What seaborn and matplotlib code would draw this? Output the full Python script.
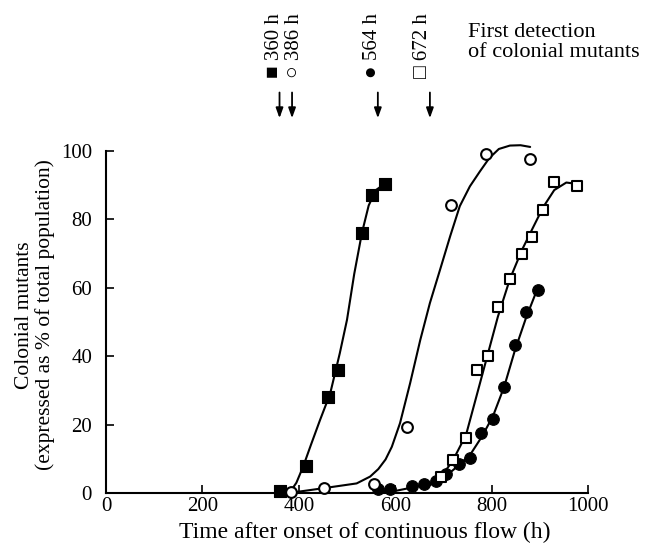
import matplotlib
matplotlib.use("Agg")
import matplotlib.pyplot as plt
import matplotlib.transforms as mtransforms
import seaborn as sns

# ---------------- data ----------------
# filled squares
sq_fill_x = [360, 415, 461, 481, 531, 552, 579]
sq_fill_y = [0.5, 8, 28, 36, 76, 87, 90.4]
# open circles
circ_open_x = [384, 453, 556, 624, 716, 788, 880]
circ_open_y = [0.3, 1.4, 2.5, 19.4, 84, 99, 97.7]
# open squares
sq_open_x = [696, 720, 747, 769, 792, 813, 838, 863, 884, 907, 930, 978]
sq_open_y = [4.8, 9.6, 16, 36, 40.1, 54.2, 62.6, 69.7, 74.7, 82.7, 90.9, 89.8]
# filled circles
circ_fill_x = [565, 590, 635, 659, 684, 706, 733, 756, 779, 803, 826, 848, 871, 896]
circ_fill_y = [1.1, 1.3, 1.9, 2.6, 3.4, 5.5, 8.4, 10.1, 17.4, 21.5, 31.1, 43.3, 52.8, 59.2]

# fitted curves
curve_a_x = [360, 382, 395, 409, 425, 444, 465, 485, 500, 515, 531, 545, 560, 579]
curve_a_y = [0.3, 0.3, 3, 7.7, 14, 21.3, 29, 40.8, 50.6, 64, 76, 84, 88.5, 90.4]
curve_b_x = [385, 451, 520, 548, 565, 580, 593, 610, 631, 652, 672, 693, 714,
             734, 755, 776, 795, 815, 838, 860, 880]
curve_b_y = [0.1, 1.4, 2.8, 4.8, 7.0, 9.8, 13.5, 20.4, 32.1, 44.7, 55.5, 65.2, 75,
             83.8, 89.6, 94, 97.8, 100.5, 101.5, 101.6, 101.1]
curve_c_x = [665, 696, 720, 747, 770, 792, 813, 838, 863, 884, 907, 930, 955, 977]
curve_c_y = [1.5, 4.8, 9.6, 17, 29, 40.5, 51.5, 62.5, 71, 77, 83.5, 88.5, 90.7, 90.3]
curve_d_x = [560, 600, 635, 660, 685, 710, 735, 757, 780, 803, 826, 848, 871, 896]
curve_d_y = [0.3, 0.6, 1.6, 2.5, 3.4, 5.5, 8.5, 11.5, 16.5, 22.5, 31, 41.5, 51, 60]

# first detection annotations
detect_times = [360, 386, 564, 672]
detect_symbols = ["\u25a0", "\u25cb", "\u25cf", "\u25a1"]

x_ticks = [0, 200, 400, 600, 800, 1000]
y_ticks = [0, 20, 40, 60, 80, 100]

# ---------------- styling ----------------
sns.set_theme(style="ticks")
serif = ["Liberation Serif", "DejaVu Serif", "DejaVu Sans"]
plt.rcParams["font.family"] = serif
plt.rcParams["axes.linewidth"] = 1.5

fig = plt.figure(figsize=(6.45, 5.48), dpi=100)
ax = fig.add_axes([106 / 645, 55 / 548, 482 / 645, 342.3 / 548])

# curves
for cx, cy in [(curve_a_x, curve_a_y), (curve_b_x, curve_b_y),
               (curve_c_x, curve_c_y), (curve_d_x, curve_d_y)]:
    sns.lineplot(x=cx, y=cy, ax=ax, color="black", linewidth=1.5,
                 estimator=None, sort=False, clip_on=False, zorder=2)

# markers
sns.scatterplot(x=sq_fill_x, y=sq_fill_y, ax=ax, marker="s", s=80,
                color="black", edgecolor="black", linewidth=0.8, clip_on=False, zorder=3)
sns.scatterplot(x=circ_fill_x, y=circ_fill_y, ax=ax, marker="o", s=70,
                color="black", edgecolor="black", linewidth=0.8, clip_on=False, zorder=3)
sns.scatterplot(x=sq_open_x, y=sq_open_y, ax=ax, marker="s", s=60,
                facecolor="white", edgecolor="black", linewidth=1.5, clip_on=False, zorder=4)
sns.scatterplot(x=circ_open_x, y=circ_open_y, ax=ax, marker="o", s=60,
                facecolor="white", edgecolor="black", linewidth=1.5, clip_on=False, zorder=4)

ax.set_xlim(0, 1000)
ax.set_ylim(0, 100)
ax.set_xticks(x_ticks)
ax.set_yticks(y_ticks)
ax.tick_params(axis="both", direction="in", length=6, width=1.2,
               labelsize=15, colors="black")
ax.tick_params(axis="y", pad=10)
ax.tick_params(axis="x", pad=3)
sns.despine(ax=ax)
for s in ["left", "bottom"]:
    ax.spines[s].set_color("black")

ax.set_xlabel("Time after onset of continuous flow (h)", fontsize=17, color="black")
ax.xaxis.set_label_coords((365 - 106) / 482, -0.083)
ax.set_ylabel("Colonial mutants\n(expressed as % of total population)",
              fontsize=15.5, color="black", linespacing=1.05)
ax.yaxis.set_label_coords(-0.106, 0.52)

# arrows and detection labels above the plot
trans = mtransforms.blended_transform_factory(ax.transData, ax.transAxes)
label_shift = [-11, 6, -11, -15]
for t, sym, dx in zip(detect_times, detect_symbols, label_shift):
    ax.annotate("", xy=(t, 1.095), xytext=(t, 1.17), xycoords=trans, textcoords=trans,
                arrowprops=dict(arrowstyle="-|>,head_length=0.5,head_width=0.18",
                                color="black", lw=1.3, shrinkA=0, shrinkB=0),
                annotation_clip=False)
    ax.text(t + dx, 1.212, f"{sym} {t} h", transform=trans, rotation=90,
            ha="center", va="bottom", fontsize=15, color="black",
            family=["Liberation Serif", "DejaVu Sans"])

fig.text(468 / 645, 1 - 23 / 548, "First detection\nof colonial mutants",
         ha="left", va="top", fontsize=16, color="black", linespacing=1.05)

fig.savefig("out.png", dpi=100)
